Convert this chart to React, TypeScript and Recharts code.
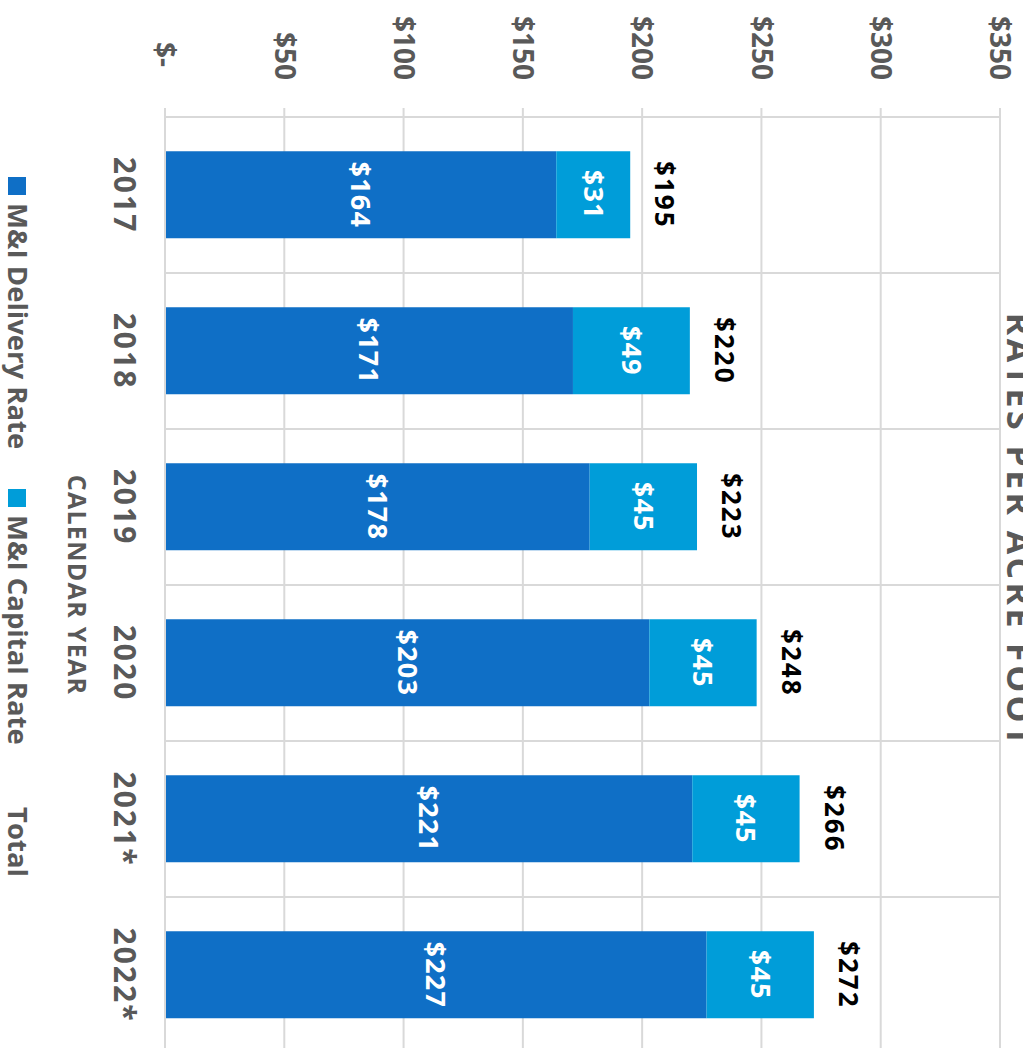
import React from 'react';
import { BarChart, Bar, XAxis, YAxis, CartesianGrid, LabelList } from 'recharts';

const years = ['2017', '2018', '2019', '2020', '2021*', '2022*'];
const deliveryRate = [164, 171, 178, 203, 221, 227];
const capitalRate = [31, 49, 45, 45, 45, 45];
const totals = [195, 220, 223, 248, 266, 272];
const valueTicks = [0, 50, 100, 150, 200, 250, 300, 350];

const data = years.map((year, i) => ({
  year,
  delivery: deliveryRate[i],
  capital: capitalRate[i],
  total: totals[i],
}));

const FONT = "'Open Sans', sans-serif";
const GRAY = '#595959';
const GRID = '#D9D9D9';
const DARK_BLUE = '#0F6FC6';
const LIGHT_BLUE = '#009DD9';

// chart drawn in its original (unrotated) frame, then rotated 90deg clockwise
const W = 1062;
const H = 1060;

const money = (v: number) => (v === 0 ? '$-' : `$${v}`);

const ValueTick = (props: any) => {
  const { x, y, payload } = props;
  const v = payload.value as number;
  return (
    <text
      x={x + (v === 0 ? -13 : 0)}
      y={y}
      dy="0.35em"
      textAnchor="end"
      fill={GRAY}
      fontSize={28}
      fontWeight={700}
      fontFamily={FONT}
    >
      {money(v)}
    </text>
  );
};

const gridColumns = ({ offset }: any) => {
  const n = years.length;
  return Array.from({ length: n + 1 }, (_, i) => offset.left + (i * offset.width) / n);
};

export default function App() {
  return (
    <div
      style={{
        position: 'fixed',
        left: 0,
        top: 0,
        width: 1023,
        height: 1048,
        overflow: 'hidden',
        background: '#ffffff',
      }}
    >
      <div
        style={{
          position: 'absolute',
          left: 0,
          top: 0,
          width: W,
          height: H,
          transformOrigin: '0 0',
          transform: `translate(${H}px, 0px) rotate(90deg)`,
        }}
      >
        <BarChart
          width={W}
          height={H}
          data={data}
          margin={{ top: 60, right: 9, bottom: 0, left: 0 }}
          barCategoryGap="22%"
        >
          <CartesianGrid
            stroke={GRID}
            strokeWidth={2}
            horizontal={true}
            vertical={true}
            verticalCoordinatesGenerator={gridColumns}
          />
          <XAxis
            dataKey="year"
            height={165}
            axisLine={{ stroke: GRID, strokeWidth: 2 }}
            tickLine={false}
            tickSize={0}
            tickMargin={30}
            tick={{ fill: GRAY, fontSize: 30, fontWeight: 700, fontFamily: FONT, letterSpacing: 2 }}
          />
          <YAxis
            width={117}
            domain={[0, 350]}
            ticks={valueTicks}
            interval={0}
            axisLine={{ stroke: GRID, strokeWidth: 2 }}
            tickLine={{ stroke: GRID, strokeWidth: 2 }}
            tickSize={9}
            tickMargin={28}
            tick={<ValueTick />}
          />
          <Bar dataKey="delivery" stackId="rate" fill={DARK_BLUE} isAnimationActive={false}>
            <LabelList
              dataKey="delivery"
              position="center"
              formatter={(v: any) => money(Number(v))}
              fill="#ffffff"
              fontSize={27}
              fontWeight={700}
              fontFamily={FONT}
              letterSpacing={1.2}
            />
          </Bar>
          <Bar dataKey="capital" stackId="rate" fill={LIGHT_BLUE} isAnimationActive={false}>
            <LabelList
              dataKey="capital"
              position="center"
              formatter={(v: any) => money(Number(v))}
              fill="#ffffff"
              fontSize={27}
              fontWeight={700}
              fontFamily={FONT}
              letterSpacing={1.2}
            />
            <LabelList
              dataKey="total"
              position="top"
              offset={25}
              formatter={(v: any) => money(Number(v))}
              fill="#000000"
              fontSize={26}
              fontWeight={700}
              fontFamily={FONT}
              letterSpacing={2}
            />
          </Bar>
        </BarChart>
        <svg
          width={W}
          height={H}
          style={{ position: 'absolute', left: 0, top: 0, pointerEvents: 'none' }}
          fontFamily={FONT}
          fontWeight={700}
        >
          <text x={531} y={53} textAnchor="middle" fill={GRAY} fontSize={34} letterSpacing={3.4}>
            RATES PER ACRE FOOT
          </text>
          <text x={585} y={992} textAnchor="middle" fill={GRAY} fontSize={25} letterSpacing={1.3}>
            CALENDAR YEAR
          </text>
          <rect x={177} y={1034} width={18} height={18} fill={DARK_BLUE} />
          <text x={203} y={1052} fill={GRAY} fontSize={27.5}>
            M&amp;I Delivery Rate
          </text>
          <rect x={489} y={1034} width={18} height={18} fill={LIGHT_BLUE} />
          <text x={515} y={1052} fill={GRAY} fontSize={27.5}>
            M&amp;I Capital Rate
          </text>
          <text x={807} y={1052} fill={GRAY} fontSize={27.5}>
            Total
          </text>
        </svg>
      </div>
    </div>
  );
}
